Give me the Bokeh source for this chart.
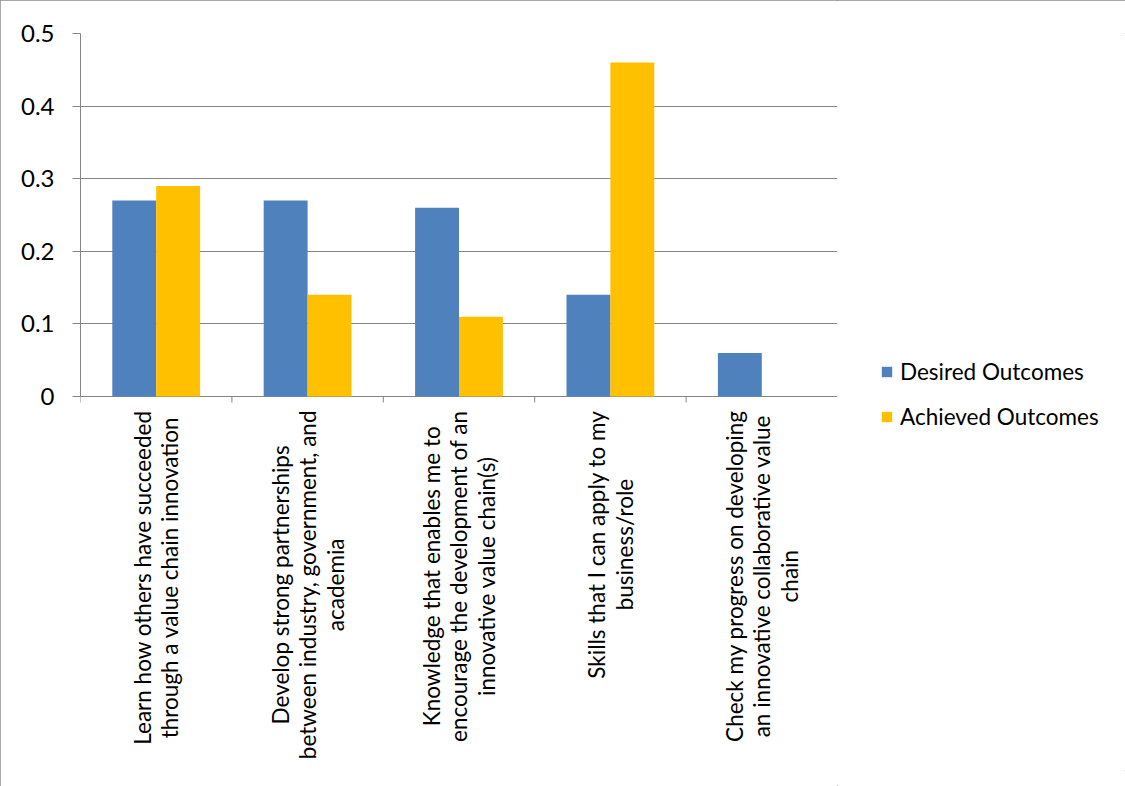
import math
from bokeh.plotting import figure
from bokeh.layouts import row
from bokeh.models import (ColumnDataSource, FactorRange, Range1d,
                          FixedTicker, Legend, LegendItem)
from bokeh.transform import dodge
from bokeh.embed import file_html
from bokeh.resources import INLINE

categories = [
    "Learn how others have succeeded\nthrough a value chain innovation",
    "Develop strong partnerships\nbetween industry, government, and\nacademia",
    "Knowledge that enables me to\nencourage the development of an\ninnovative value chain(s)",
    "Skills that I can apply to my\nbusiness/role",
    "Check my progress on developing\nan innovative collaborative value\nchain",
]
desired = [0.27, 0.27, 0.26, 0.14, 0.06]
achieved = [0.29, 0.14, 0.11, 0.46, 0.0]
series_names = ["Desired Outcomes", "Achieved Outcomes"]
y_ticks = [0, 0.1, 0.2, 0.3, 0.4, 0.5]

BLUE = "#4F81BD"
GOLD = "#FFC000"
GRID = "#868686"
FONT = "Lato"

# layout (pixels)
W, H = 1125, 786
LEFT, RIGHT, TOP, ZERO_Y, BOTTOM = 80, 837, 33, 396, 770
Y_MAX = 0.5
px_per_unit = (ZERO_Y - TOP) / Y_MAX
y_start = -(BOTTOM - ZERO_Y) / px_per_unit
tick_len = 6 / px_per_unit
label_gap = 14 / px_per_unit

source = ColumnDataSource(dict(cat=categories, desired=desired, achieved=achieved))

p = figure(width=RIGHT, height=H,
           x_range=FactorRange(factors=categories, range_padding=0),
           y_range=Range1d(y_start, Y_MAX),
           x_axis_location=None,
           output_backend="svg", toolbar_location=None,
           min_border_left=LEFT, min_border_right=0,
           min_border_top=TOP, min_border_bottom=H - BOTTOM)
p.outline_line_color = None
p.background_fill_color = "white"
p.border_fill_color = "white"

r1 = p.vbar(x=dodge("cat", -0.145, range=p.x_range), top="desired", width=0.29,
            source=source, fill_color=BLUE, line_color=None)
r2 = p.vbar(x=dodge("cat", 0.145, range=p.x_range), top="achieved", width=0.29,
            source=source, fill_color=GOLD, line_color=None)

# y axis
ya = p.yaxis[0]
ya.ticker = FixedTicker(ticks=y_ticks, minor_ticks=[])
ya.bounds = (0, Y_MAX)
ya.major_label_overrides = {0: "0"}
ya.axis_line_color = GRID
ya.major_tick_line_color = GRID
ya.major_tick_in = 0
ya.major_tick_out = 8
ya.minor_tick_line_color = None
ya.major_label_text_font = FONT
ya.major_label_text_font_size = "24px"
ya.major_label_text_color = "black"
ya.major_label_standoff = 18

p.xgrid.grid_line_color = None
p.ygrid.grid_line_color = GRID
p.ygrid.ticker = FixedTicker(ticks=y_ticks)

# tick marks at category boundaries (synthetic coords of the factor range)
edges = list(range(len(categories) + 1))
p.segment(x0=edges, y0=[0] * len(edges), x1=edges, y1=[-tick_len] * len(edges),
          line_color=GRID, line_width=1)

# category labels, lines centred, block hanging below the axis
p.text(x="cat", y=-label_gap, text="cat", source=source, angle=math.pi / 2,
       anchor="center_right", text_align="center",
       text_font={"value": FONT}, text_font_size="22.5px",
       text_line_height=1.02, text_color="black")

# legend panel (swatch renderers carry only the series colours, zero-height)
lg = figure(width=W - RIGHT, height=H, x_range=Range1d(0, 1), y_range=Range1d(0, 1),
            x_axis_location=None, y_axis_location=None,
            output_backend="svg", toolbar_location=None,
            min_border=0, min_border_left=0, min_border_right=0,
            min_border_top=0, min_border_bottom=0)
lg.outline_line_color = None
lg.xgrid.grid_line_color = None
lg.ygrid.grid_line_color = None
lg.border_fill_color = "white"
swatch = ColumnDataSource(dict(x=[0.5], top=[0.0]))
lr1 = lg.vbar(x="x", top="top", width=0.01, source=swatch, fill_color=BLUE, line_color=None)
lr2 = lg.vbar(x="x", top="top", width=0.01, source=swatch, fill_color=GOLD, line_color=None)

legend = Legend(items=[LegendItem(label=series_names[0], renderers=[lr1]),
                       LegendItem(label=series_names[1], renderers=[lr2])],
                location=(43, 340), orientation="vertical",
                border_line_color=None, background_fill_alpha=0,
                padding=0, margin=0, spacing=18,
                glyph_width=13, glyph_height=13, label_height=20,
                label_standoff=7, label_text_font=FONT,
                label_text_font_size="22.5px", label_text_color="black")
lg.add_layout(legend)

layout = row(p, lg, spacing=0)
layout.styles = {"outline": "1px solid #8c8c8c", "outline-offset": "-1px"}
open("out.html", "w").write(file_html(layout, INLINE))
